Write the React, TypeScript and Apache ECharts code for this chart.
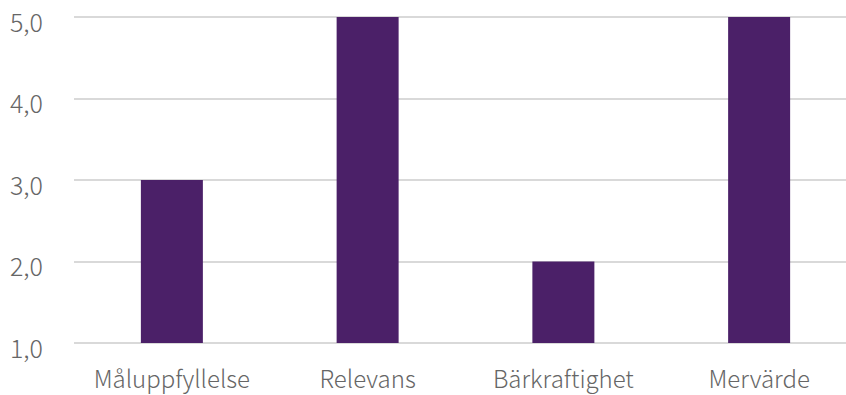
import React, { useEffect, useRef } from "react";
import * as echarts from "echarts";

const categories = ["Måluppfyllelse", "Relevans", "Bärkraftighet", "Mervärde"];
const values = [3, 5, 2, 5];
const yMin = 1;
const yMax = 5;
const yInterval = 1;

export default function App() {
  const ref = useRef<HTMLDivElement>(null);
  useEffect(() => {
    if (!ref.current) return;
    const chart = echarts.init(ref.current, undefined, { renderer: "svg" });
    const font = "'Noto Sans CJK JP', 'Noto Sans', sans-serif";
    chart.setOption({
      animation: false,
      grid: { left: 74, right: 0, top: 17, bottom: 52, containLabel: false },
      xAxis: {
        type: "category",
        data: categories,
        axisLine: { show: false },
        axisTick: { show: false },
        axisLabel: {
          interval: 0,
          hideOverlap: false,
          color: "#666666",
          fontSize: 24,
          fontWeight: 300,
          fontFamily: font,
          margin: 22,
        },
      },
      yAxis: {
        type: "value",
        min: yMin,
        max: yMax,
        interval: yInterval,
        axisLine: { show: false },
        axisTick: { show: false },
        axisLabel: {
          color: "#666666",
          fontSize: 25,
          fontWeight: 300,
          fontFamily: font,
          margin: 31,
          verticalAlign: "top",
          padding: [-9, 0, 0, 0],
          formatter: (v: number) => v.toFixed(1).replace(".", ","),
        },
        splitLine: { lineStyle: { color: "#d9d9d9", width: 2 } },
      },
      series: [
        {
          type: "bar",
          data: values,
          barWidth: 62,
          itemStyle: { color: "#4b2068" },
        },
      ],
    });
    return () => chart.dispose();
  }, []);
  return (
    <div style={{ position: "absolute", left: 0, top: 0, width: 846, height: 395, overflow: "hidden" }}>
      <div ref={ref} style={{ width: 857, height: 395 }} />
    </div>
  );
}
